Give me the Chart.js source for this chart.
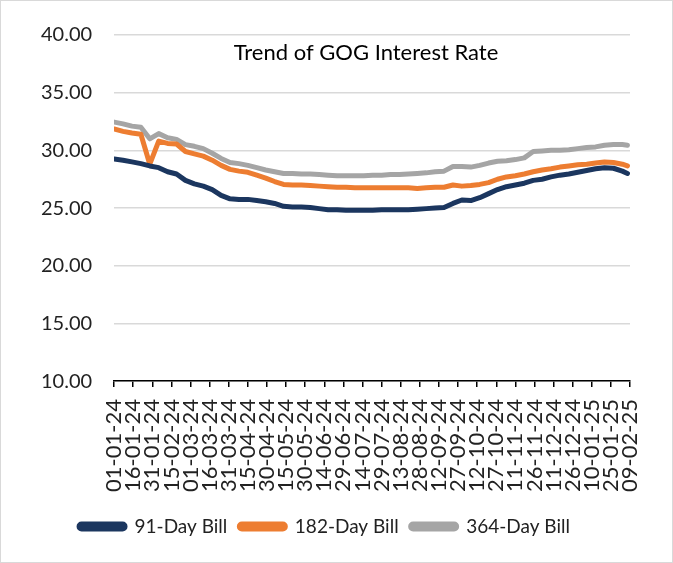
<!DOCTYPE html>
<html>
<head>
<meta charset="utf-8">
<script src="https://cdn.jsdelivr.net/npm/chart.js@4.4.1/dist/chart.umd.min.js"></script>
<style>
  html, body { margin: 0; padding: 0; background: #fff; }
  #wrap { position: relative; width: 671px; height: 561px; border: 1px solid #d9d9d9; }
</style>
</head>
<body>
<div id="wrap"><canvas id="graficoTasas"></canvas></div>
<script>
// Etiquetas del eje X (cada 15 días)
const etiquetasX = ['01-01-24','16-01-24','31-01-24','15-02-24','01-03-24','16-03-24','31-03-24',
  '15-04-24','30-04-24','15-05-24','30-05-24','14-06-24','29-06-24','14-07-24','29-07-24',
  '13-08-24','28-08-24','12-09-24','27-09-24','12-10-24','27-10-24','11-11-24','26-11-24',
  '11-12-24','26-12-24','10-01-25','25-01-25','09-02-25'];

// Días desde 01-01-24 de cada subasta
const dias = [0,7,14,21,28,35,42,49,56,63,70,77,84,91,98,105,112,119,126,133,140,147,154,161,
  168,175,182,189,196,203,210,217,224,231,238,245,252,259,266,273,280,287,294,301,308,315,
  322,329,336,343,350,357,364,371,378,385,392,399,403];

const bill91 = [29.25,29.15,29.0,28.85,28.65,28.5,28.15,27.95,27.4,27.1,26.9,26.6,26.1,25.8,
  25.75,25.75,25.65,25.55,25.4,25.15,25.1,25.1,25.05,24.95,24.85,24.85,24.8,24.8,24.8,24.8,
  24.85,24.85,24.85,24.85,24.9,24.95,25.0,25.05,25.4,25.7,25.65,25.9,26.25,26.6,26.85,27.0,
  27.15,27.4,27.5,27.7,27.85,27.95,28.1,28.25,28.4,28.5,28.45,28.2,28.0];

const bill182 = [31.85,31.65,31.5,31.4,28.8,30.8,30.6,30.55,29.9,29.7,29.5,29.15,28.7,28.35,
  28.2,28.1,27.85,27.6,27.3,27.05,27.0,27.0,26.95,26.9,26.85,26.8,26.8,26.75,26.75,26.75,
  26.75,26.75,26.75,26.75,26.7,26.75,26.8,26.8,27.0,26.9,26.95,27.05,27.2,27.5,27.7,27.8,
  27.95,28.15,28.3,28.4,28.55,28.65,28.75,28.8,28.9,29.0,28.95,28.8,28.65];

const bill364 = [32.45,32.3,32.1,32.0,31.0,31.45,31.1,30.95,30.5,30.35,30.15,29.75,29.3,28.95,
  28.85,28.7,28.5,28.3,28.15,28.0,28.0,27.95,27.95,27.9,27.85,27.8,27.8,27.8,27.8,27.85,
  27.85,27.9,27.9,27.95,28.0,28.05,28.15,28.2,28.6,28.6,28.55,28.7,28.9,29.05,29.1,29.2,
  29.35,29.9,29.95,30.0,30.0,30.05,30.15,30.25,30.3,30.45,30.5,30.5,30.45];

const fuente = 'Lato, "Open Sans", sans-serif';

function puntos(valores) {
  return valores.map((v, i) => ({ x: dias[i], y: v }));
}

// Título dibujado dentro del área del gráfico, como en Excel
const tituloInterno = {
  id: 'tituloInterno',
  afterDatasetsDraw(chart) {
    const { ctx } = chart;
    ctx.save();
    ctx.font = '22px ' + fuente;
    ctx.fillStyle = '#000';
    ctx.textAlign = 'center';
    ctx.textBaseline = 'middle';
    ctx.fillText('Trend of GOG Interest Rate', 365, 52);
    ctx.restore();
  }
};

const serie = (label, data, color) => ({
  label: label,
  data: puntos(data),
  borderColor: color,
  backgroundColor: color,
  borderWidth: 5,
  pointRadius: 0,
  borderCapStyle: 'round',
  borderJoinStyle: 'round',
  tension: 0,
  fill: false
});

new Chart(document.getElementById('graficoTasas').getContext('2d'), {
  type: 'line',
  data: {
    datasets: [
      serie('91-Day Bill', bill91, '#1b365f'),
      serie('182-Day Bill', bill182, '#ed7d31'),
      serie('364-Day Bill', bill364, '#a5a5a5')
    ]
  },
  plugins: [tituloInterno],
  options: {
    responsive: true,
    maintainAspectRatio: false,
    animation: false,
    layout: { padding: { top: 11, right: 42, left: 18, bottom: 16 } },
    scales: {
      x: {
        type: 'linear',
        min: 0,
        max: 405,
        afterFit: function(escala) { escala.height += 1; }, // espacio extra antes de la leyenda
        grid: { drawOnChartArea: false, drawTicks: true, tickLength: 6, color: '#000', lineWidth: 1.5 },
        border: { color: '#000', width: 1.5 },
        ticks: {
          stepSize: 15,
          autoSkip: false,
          minRotation: 90,
          maxRotation: 90,
          padding: 12,
          color: '#222',
          font: { family: fuente, size: 22 },
          callback: function(value) {
            return etiquetasX[Math.round(value / 15)];
          }
        }
      },
      y: {
        min: 10,
        max: 40,
        grid: { color: '#d9d9d9', lineWidth: 1.5, drawTicks: false },
        border: { display: false },
        ticks: {
          stepSize: 5,
          padding: 22,
          color: '#222',
          font: { family: fuente, size: 20 },
          callback: function(value) { return value.toFixed(2); }
        }
      }
    },
    plugins: {
      title: { display: false },
      tooltip: { enabled: false },
      legend: {
        position: 'bottom',
        labels: {
          boxWidth: 46,
          boxHeight: 5,
          useBorderRadius: true,
          borderRadius: 2.5,
          padding: 12,
          color: '#222',
          font: { family: fuente, size: 19 }
        }
      }
    }
  }
});
</script>
</body>
</html>
